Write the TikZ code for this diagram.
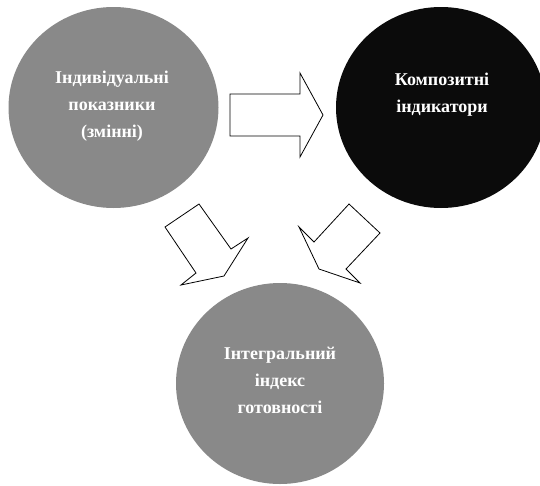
\documentclass[tikz,border=0pt]{standalone}
\usepackage{fontspec}
\setmainfont{Liberation Serif}
\usetikzlibrary{shapes.geometric}
\definecolor{circgray}{HTML}{898989}
\definecolor{circblack}{HTML}{0B0B0B}
\tikzset{
  bubble/.style={ellipse, inner sep=0pt, minimum width=210pt, minimum height=201pt, draw=none},
  label text/.style={text=white, font=\fontsize{18}{27}\selectfont\bfseries, align=center, inner sep=0pt},
  blockarrow/.style={draw=black, line width=0.8pt, fill=white, line join=miter}
}
\begin{document}
\begin{tikzpicture}[x=1pt, y=-1pt]
\useasboundingbox (0,0) rectangle (540,485);
\fill[white] (0,0) rectangle (540,485);
% circles
\node[bubble, fill=circgray] (ind) at (113.5,107.5) {};
\node[bubble, fill=circblack] (comp) at (441,107.5) {};
\node[bubble, fill=circgray, minimum width=208pt] (integ) at (280,383.5) {};
% texts
\node[label text] (indtext) at (112,106) {Індивідуальні\\показники\\(змінні)};
\node[label text] (comptext) at (442,95) {Композитні\\індикатори};
\node[label text] (integtext) at (280,380) {Інтегральний\\індекс\\готовності};
% block arrows
\draw[blockarrow] (230,94) -- (300,94) -- (300,73) -- (323,115) -- (300,157) -- (300,136) -- (230,136) -- cycle;
\draw[blockarrow] (165,227) -- (199,204) -- (231,249) -- (248,238) -- (224,276) -- (181,285) -- (196,273) -- cycle;
\draw[blockarrow] (299,227) -- (314,242) -- (349,204) -- (380,233) -- (346,269) -- (360,283) -- (319,269) -- cycle;
\end{tikzpicture}
\end{document}
